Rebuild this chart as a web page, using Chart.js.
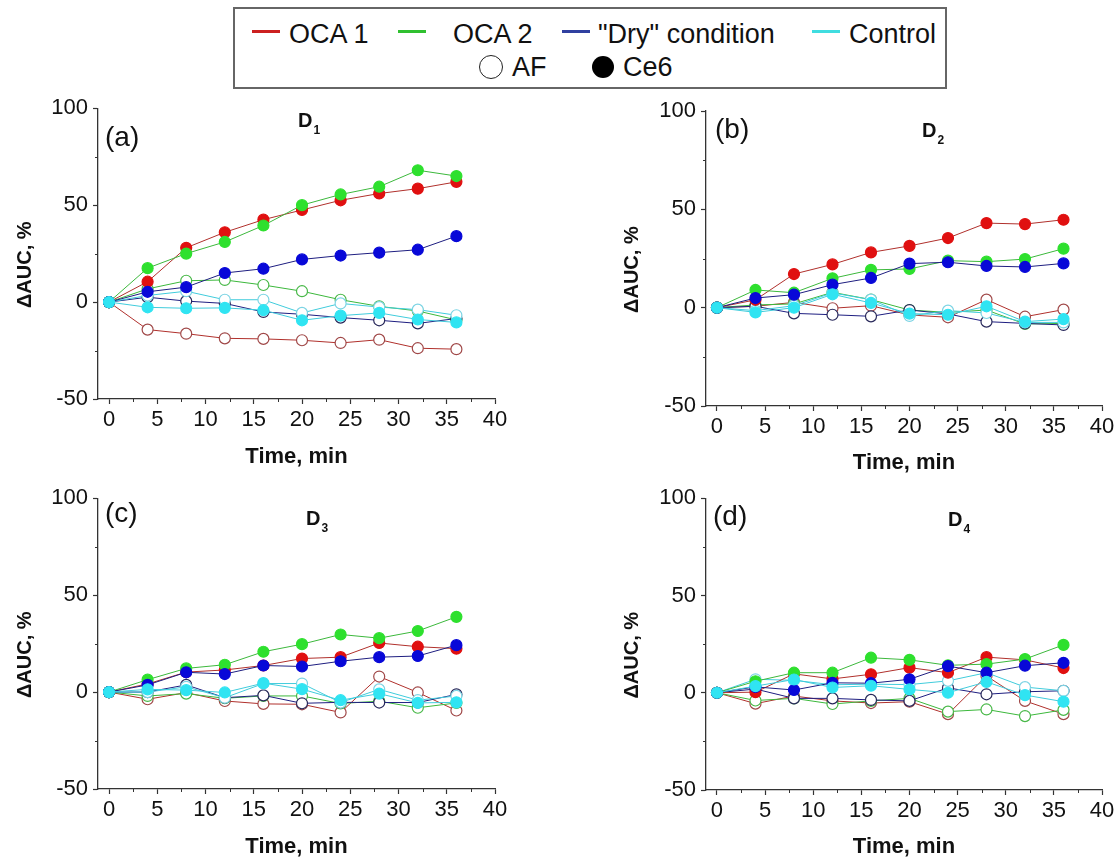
<!DOCTYPE html>
<html>
<head>
<meta charset="utf-8">
<script src="https://cdn.jsdelivr.net/npm/chart.js@4.4.1/dist/chart.umd.min.js"></script>
<style>
  body { margin: 0; background: #fff; width: 1120px; height: 861px; position: relative; overflow: hidden;
         font-family: 'Liberation Sans', Arial, sans-serif; }
  canvas { position: absolute; }
  #legend { position: absolute; left: 233px; top: 7px; width: 710px; height: 78px; border: 2px solid #666; }
  .item { position: absolute; font-size: 27px; line-height: 30px; height: 30px; color: #111; white-space: nowrap; }
  .swatch { position: absolute; height: 3px; width: 28px; }
  .mark { position: absolute; border-radius: 50%; box-sizing: border-box; }
</style>
</head>
<body>
<div id="legend"></div>
<script>
// time points, min
const times = [0, 4, 8, 12, 16, 20, 24, 28, 32, 36];
const seriesNames = ['OCA 1', 'OCA 2', '"Dry" condition', 'Control'];
const markerNames = ['AF', 'Ce6'];
const panelLabels = ['(a)', '(b)', '(c)', '(d)'];
const panelSubs = ['1', '2', '3', '4'];
const xTicks = [0, 5, 10, 15, 20, 25, 30, 35, 40];
const yTicks = [-50, 0, 50, 100];

// panel (a) D1
const a_oca1_af  = [0, -14.2, -16.3, -18.7, -19, -19.7, -21.1, -19.4, -23.8, -24.3];
const a_oca1_ce6 = [0, 10.5, 28, 36, 42.5, 47.5, 52.5, 56, 58.5, 62];
const a_oca2_af  = [0, 6.8, 11, 11.4, 8.8, 5.6, 1.2, -2.2, -4.6, -9.2];
const a_oca2_ce6 = [0, 17.5, 25, 31, 39.5, 50, 55.5, 59.5, 68, 65];
const a_dry_af   = [0, 2.5, 0.5, -0.7, -5.1, -6.3, -8, -9.4, -11, -8.5];
const a_dry_ce6  = [0, 5.3, 7.7, 15, 17.2, 22, 24, 25.5, 27, 34];
const a_ctrl_af  = [0, 3.4, 5.6, 1.2, 1.2, -5.6, -0.7, -2.6, -3.9, -6.8];
const a_ctrl_ce6 = [0, -2.7, -3.2, -3, -4.2, -9.4, -7, -5.6, -9, -10.5];

// panel (b) D2
const b_oca1_af  = [0, 0.7, 2.7, -0.3, 1, -3.7, -4.9, 4.1, -4.6, -1];
const b_oca1_ce6 = [0, 4, 17.1, 22, 28.1, 31.4, 35.4, 43, 42.5, 44.7];
const b_oca2_af  = [0, 1.4, 1.9, 7.8, 4.1, -1.2, -2.4, -1.2, -8.3, -8];
const b_oca2_ce6 = [0, 9, 7.6, 14.9, 19.2, 19.7, 23.9, 23.4, 24.7, 30];
const b_dry_af   = [0, 0.7, -2.9, -3.6, -4.4, -1.2, -3.2, -7.1, -8, -8.8];
const b_dry_ce6  = [0, 4.9, 6.6, 11.7, 15.1, 22.4, 23.1, 21.2, 20.7, 22.5];
const b_ctrl_af  = [0, -1.5, 1, 7.5, 4.1, -4.2, -1.5, -2.7, -7.5, -7.5];
const b_ctrl_ce6 = [0, -2.4, 0, 6.8, 2.4, -3, -3.6, 0.7, -7.1, -5.8];

// panel (c) D3
const c_oca1_af  = [0, -3.7, -0.3, -4.6, -6.1, -6.3, -10.5, 8, -0.2, -9.5];
const c_oca1_ce6 = [0, 4.2, 10.3, 11.4, 13.7, 17.3, 18, 25.3, 23.4, 22.4];
const c_oca2_af  = [0, -2, -0.8, -3.2, -2, -2, -5.9, -4.7, -8.1, -5.6];
const c_oca2_ce6 = [0, 6.4, 12.2, 14.1, 20.8, 24.7, 29.7, 27.8, 31.5, 38.8];
const c_dry_af   = [0, 0, 3.7, -2.9, -1.7, -5.8, -5.3, -5.4, -5.4, -1.2];
const c_dry_ce6  = [0, 3.7, 10.2, 9.3, 13.7, 13.2, 15.9, 18, 18.6, 24.2];
const c_ctrl_af  = [0, 0, 2.7, -2.9, 4.4, 4.4, -5.4, 1.4, -4.2, -2];
const c_ctrl_ce6 = [0, 1.4, 1, -0.2, 4.6, 1.5, -4.2, -0.8, -5.6, -5.3];

// panel (d) D4
const d_oca1_af  = [0, -5.6, -1.7, -4.2, -5.3, -4.6, -11, 8.6, -4.2, -11];
const d_oca1_ce6 = [0, 0.3, 9.7, 7.1, 9.5, 12.9, 10.3, 18.3, 16.9, 12.7];
const d_oca2_af  = [0, -4, -2.9, -5.8, -4.2, -2.9, -9.7, -8.6, -12, -8.8];
const d_oca2_ce6 = [0, 5.9, 10.3, 10.3, 18, 16.9, 14.1, 14.7, 17.3, 24.6];
const d_dry_af   = [0, 1.9, -2.9, -2.9, -3.7, -4.2, 2.5, -0.8, 0.5, 1];
const d_dry_ce6  = [0, 3, 1.4, 5.1, 4.9, 6.9, 13.7, 10.3, 13.9, 15.4];
const d_ctrl_af  = [0, 6.9, 6.4, 4.1, 4.4, 4.2, 6.1, 10.3, 2.9, 1];
const d_ctrl_ce6 = [0, 3.4, 6.8, 2.7, 3.6, 1.7, 0, 5.6, -1.2, -4.6];

// [series][AF, Ce6]
const panelData = [
  [[a_oca1_af, a_oca1_ce6], [a_oca2_af, a_oca2_ce6], [a_dry_af, a_dry_ce6], [a_ctrl_af, a_ctrl_ce6]],
  [[b_oca1_af, b_oca1_ce6], [b_oca2_af, b_oca2_ce6], [b_dry_af, b_dry_ce6], [b_ctrl_af, b_ctrl_ce6]],
  [[c_oca1_af, c_oca1_ce6], [c_oca2_af, c_oca2_ce6], [c_dry_af, c_dry_ce6], [c_ctrl_af, c_ctrl_ce6]],
  [[d_oca1_af, d_oca1_ce6], [d_oca2_af, d_oca2_ce6], [d_dry_af, d_dry_ce6], [d_ctrl_af, d_ctrl_ce6]]
];

const lineColors = ['#b0302c', '#3cb83c', '#1e1e80', '#40ccdc'];
const fillColors = ['#e01010', '#2ee02e', '#0808d8', '#30e4f2'];
const openColors = ['#a04848', '#48b848', '#28285a', '#7cd4e4'];
const legendColors = ['#cc2020', '#30c030', '#3040a0', '#40dde0'];

// page coords: canvas box, chart area, title spots
const panels = [
  { canvas: [0, 90, 560, 390],   area: [98, 105, 495, 399],   yTitleX: 25,  xTitleY: 457, label: [105, 146], d: [298, 127] },
  { canvas: [560, 90, 560, 390], area: [706, 111, 1102, 406], yTitleX: 632, xTitleY: 463, label: [715, 138], d: [922, 137] },
  { canvas: [0, 480, 560, 381],  area: [98, 494, 495, 789],   yTitleX: 25,  xTitleY: 847, label: [105, 522], d: [306, 525] },
  { canvas: [560, 480, 560, 381], area: [706, 494, 1102, 790], yTitleX: 632, xTitleY: 847, label: [713, 525], d: [948, 526] }
];

Chart.defaults.font.family = "'Liberation Sans', Arial, sans-serif";
Chart.defaults.color = '#111';

// minor ticks, panel letter and D_n title
const panelDecor = {
  id: 'panelDecor',
  afterDraw(chart, args, opts) {
    const { ctx, chartArea, scales: { x, y } } = chart;
    ctx.save();
    ctx.strokeStyle = '#333';
    ctx.lineWidth = 1;
    ctx.beginPath();
    for (let i = 0; i < xTicks.length - 1; i++) {
      const px = Math.round(x.getPixelForValue((xTicks[i] + xTicks[i + 1]) / 2)) + 0.5;
      ctx.moveTo(px, chartArea.bottom);
      ctx.lineTo(px, chartArea.bottom + 3);
    }
    for (let i = 0; i < yTicks.length - 1; i++) {
      const py = Math.round(y.getPixelForValue((yTicks[i] + yTicks[i + 1]) / 2)) + 0.5;
      ctx.moveTo(chartArea.left - 3, py);
      ctx.lineTo(chartArea.left, py);
    }
    ctx.stroke();

    ctx.fillStyle = '#111';
    ctx.textBaseline = 'alphabetic';
    ctx.textAlign = 'left';
    ctx.font = "28px 'Liberation Sans', Arial, sans-serif";
    ctx.fillText(opts.label, opts.lx, opts.ly);
    ctx.font = "bold 20px 'Liberation Sans', Arial, sans-serif";
    ctx.fillText('D', opts.dx, opts.dy);
    const w = ctx.measureText('D').width;
    ctx.font = "bold 12px 'Liberation Sans', Arial, sans-serif";
    ctx.fillText(opts.sub, opts.dx + w + 1, opts.dy + 7);
    ctx.restore();
  }
};

function makePanel(idx) {
  const p = panels[idx];
  const [cl, ct, cw, ch] = p.canvas;
  const [al, at, ar, ab] = p.area;
  const cv = document.createElement('canvas');
  cv.width = cw;
  cv.height = ch;
  cv.style.left = cl + 'px';
  cv.style.top = ct + 'px';
  document.body.appendChild(cv);

  const yWidth = al - cl;
  const xHeight = ct + ch - ab;
  const xTitlePad = ch - 22 * 1.2 / 2 - (p.xTitleY - ct);
  const yTitlePad = p.yTitleX - cl - 20 * 1.2 / 2;

  const datasets = [];
  // first dataset is drawn on top
  [1, 0].forEach(m => {
    [3, 2, 1, 0].forEach(k => {
      const vals = panelData[idx][k][m];
      datasets.push({
        label: seriesNames[k] + ' ' + markerNames[m],
        data: times.map((t, i) => ({ x: t, y: vals[i] })),
        borderColor: lineColors[k],
        borderWidth: 1,
        pointRadius: 5.5,
        pointHoverRadius: 5.5,
        pointBackgroundColor: m ? fillColors[k] : '#ffffff',
        pointBorderColor: m ? fillColors[k] : openColors[k],
        pointBorderWidth: 1.2,
        tension: 0,
        fill: false
      });
    });
  });

  new Chart(cv, {
    type: 'line',
    data: { datasets },
    options: {
      responsive: false,
      animation: false,
      layout: { padding: { top: at - ct, right: cl + cw - ar, left: 0, bottom: 0 } },
      plugins: {
        legend: { display: false },
        tooltip: { enabled: false },
        panelDecor: {
          label: panelLabels[idx], sub: panelSubs[idx],
          lx: p.label[0] - cl, ly: p.label[1] - ct,
          dx: p.d[0] - cl, dy: p.d[1] - ct
        }
      },
      scales: {
        x: {
          type: 'linear',
          min: -1.14,
          max: 40,
          afterBuildTicks: s => { s.ticks = xTicks.map(v => ({ value: v })); },
          afterFit: s => { s.height = xHeight; },
          ticks: { font: { size: 22 }, padding: 3, maxRotation: 0, autoSkip: false, color: '#111' },
          grid: { drawOnChartArea: false, tickLength: 5, tickColor: '#333', tickWidth: 1.2 },
          border: { color: '#333', width: 1.3 },
          title: { display: true, text: 'Time, min', color: '#111',
                   font: { size: 22, weight: 'bold' }, padding: { top: 0, bottom: xTitlePad } }
        },
        y: {
          min: -50,
          max: 100,
          afterBuildTicks: s => { s.ticks = yTicks.map(v => ({ value: v })); },
          afterFit: s => { s.width = yWidth; },
          ticks: { font: { size: 22 }, padding: 5, autoSkip: false, color: '#111' },
          grid: { drawOnChartArea: false, tickLength: 5, tickColor: '#333', tickWidth: 1.2 },
          border: { color: '#333', width: 1.3 },
          title: { display: true, text: '\u0394AUC, %    ', color: '#111',
                   font: { size: 20, weight: 'bold' }, padding: { top: yTitlePad, bottom: 0 } }
        }
      }
    },
    plugins: [panelDecor]
  });
}

for (let i = 0; i < panels.length; i++) makePanel(i);

// shared legend
const legend = document.getElementById('legend');
const rowItems = [
  { sw: 17, tx: 54 }, { sw: 163, tx: 218 }, { sw: 327, tx: 363 }, { sw: 577, tx: 614 }
];
seriesNames.forEach((name, k) => {
  const sw = document.createElement('div');
  sw.className = 'swatch';
  sw.style.left = rowItems[k].sw + 'px';
  sw.style.top = '21px';
  sw.style.background = legendColors[k];
  legend.appendChild(sw);
  const t = document.createElement('div');
  t.className = 'item';
  t.style.left = rowItems[k].tx + 'px';
  t.style.top = '10px';
  t.textContent = name;
  legend.appendChild(t);
});
const markItems = [
  { left: 244, top: 46, size: 24, tx: 277, filled: false },
  { left: 357, top: 47, size: 22, tx: 388, filled: true }
];
markerNames.forEach((name, m) => {
  const it = markItems[m];
  const mk = document.createElement('div');
  mk.className = 'mark';
  mk.style.left = it.left + 'px';
  mk.style.top = it.top + 'px';
  mk.style.width = it.size + 'px';
  mk.style.height = it.size + 'px';
  mk.style.border = it.filled ? 'none' : '1.5px solid #222';
  mk.style.background = it.filled ? '#000' : '#fff';
  legend.appendChild(mk);
  const t = document.createElement('div');
  t.className = 'item';
  t.style.left = it.tx + 'px';
  t.style.top = '43px';
  t.textContent = name;
  legend.appendChild(t);
});
</script>
</body>
</html>
